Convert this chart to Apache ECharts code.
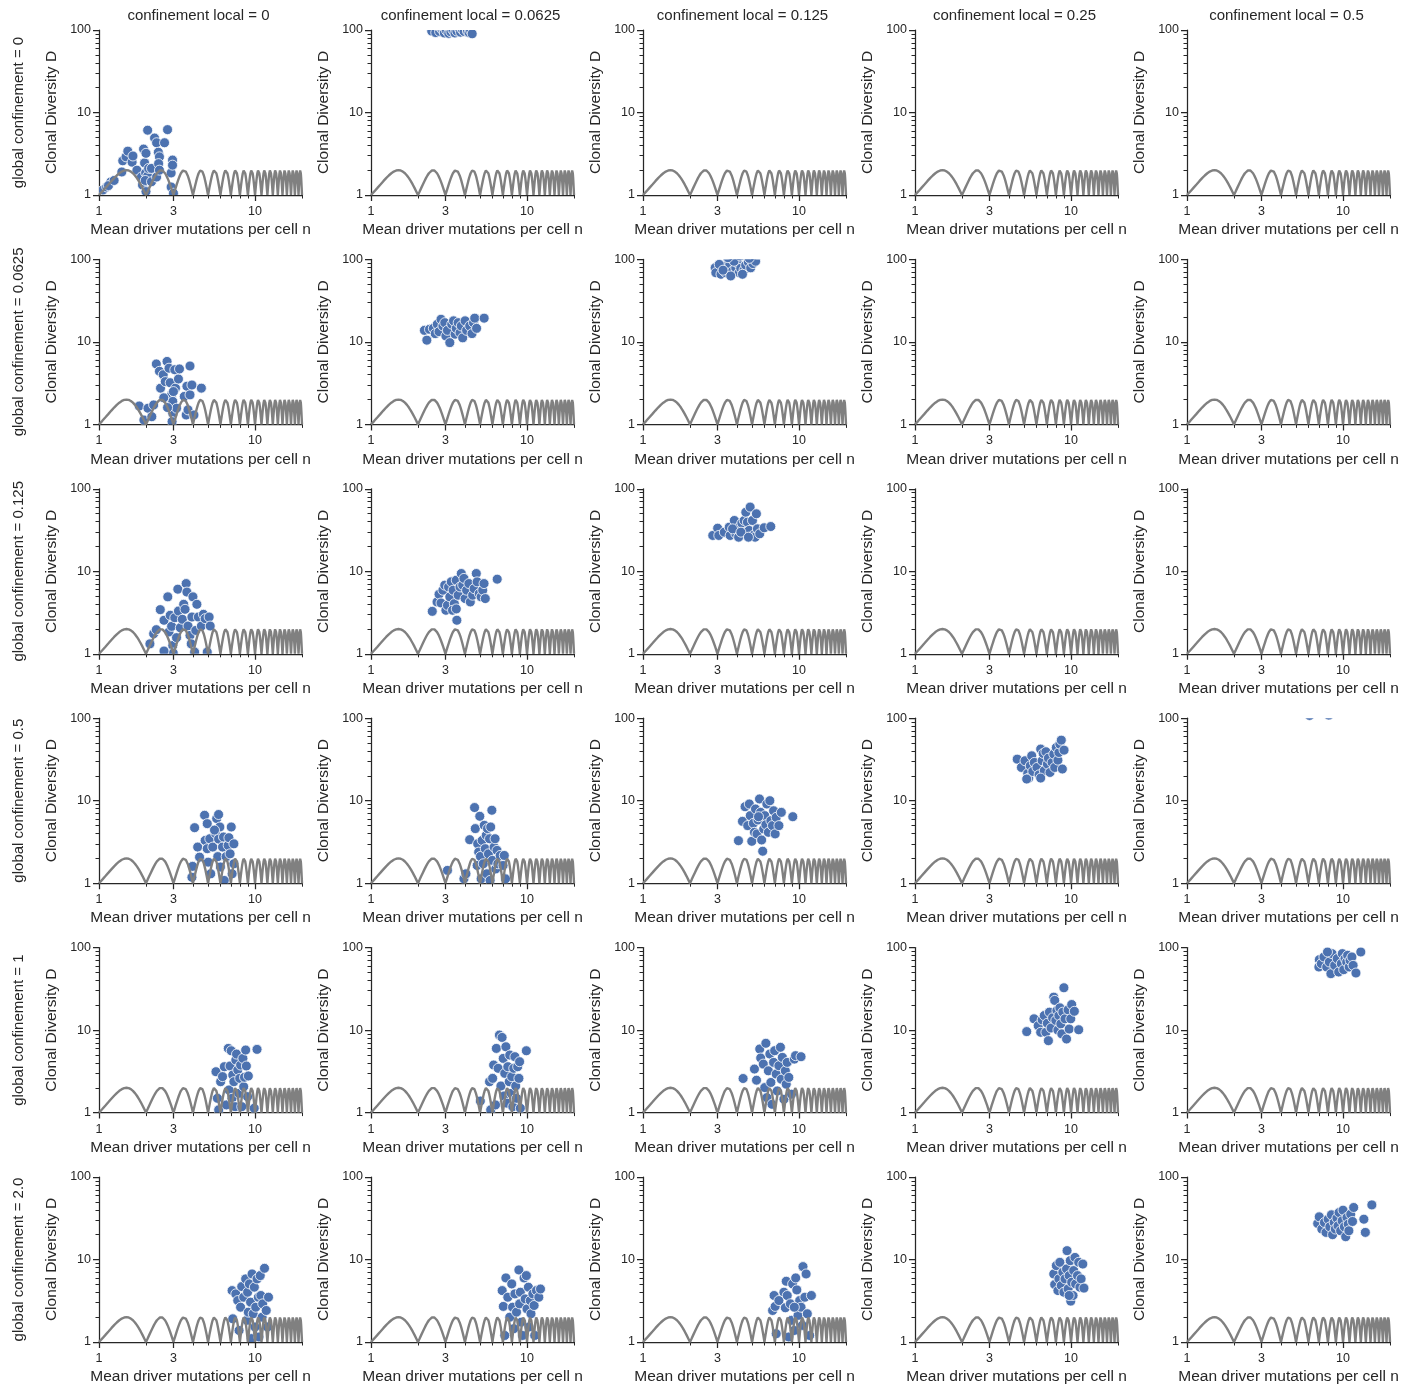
<!DOCTYPE html>
<html>
<head>
<meta charset="utf-8">
<script src="https://cdn.jsdelivr.net/npm/echarts@6/dist/echarts.min.js"></script>
<style>
  html, body { margin: 0; padding: 0; background: #ffffff; }
  #chart { width: 1419px; height: 1388px; }
</style>
</head>
<body>
<div id="chart"></div>
<script>
// Facet levels
const globalLevels = ['0', '0.0625', '0.125', '0.5', '1', '2.0'];
const localLevels = ['0', '0.0625', '0.125', '0.25', '0.5'];

// Tick positions
const xMajorTicks = [1, 3, 10];
const xMinorTicks = [2, 4, 5, 6, 7, 8, 9, 20];
const yMajorTicks = [1, 10, 100];
const yMinorTicks = [2, 3, 4, 5, 6, 7, 8, 9, 20, 30, 40, 50, 60, 70, 80, 90];

// One arch of the reference curve between two consecutive integers n and n+1
const archFrac = [0, 0.05, 0.1, 0.15, 0.2, 0.25, 0.3, 0.35, 0.4, 0.45, 0.5,
                  0.55, 0.6, 0.65, 0.7, 0.75, 0.8, 0.85, 0.9, 0.95, 1];
const archD = [1, 1.105, 1.22, 1.342, 1.471, 1.6, 1.724, 1.835, 1.923, 1.98, 2,
               1.98, 1.923, 1.835, 1.724, 1.6, 1.471, 1.342, 1.22, 1.105, 1];
const archStarts = [1, 2, 3, 4, 5, 6, 7, 8, 9, 10, 11, 12, 13, 14, 15, 16, 17, 18, 19];

// Simulated tumours: [mean driver mutations n, clonal diversity D]
const pts_g0_l0 = [[1.06,1.15],[1.12,1.25],[1.19,1.44],[1.15,1.3],[1.25,1.5],[1.40,1.9],[1.42,2.6],[1.49,2.9],[1.53,3.4],[1.63,2.5],[1.65,2.97],[1.75,2.0],[1.87,1.65],[1.9,1.32],[1.93,3.6],[1.96,2.45],[2.0,3.2],[2.05,6.1],[1.99,1.85],[2.05,1.7],[1.98,1.5],[2.0,1.1],[2.08,2.1],[2.17,2.1],[2.17,1.45],[2.27,4.9],[2.34,4.3],[2.34,1.65],[2.4,3.3],[2.44,2.9],[2.41,2.4],[2.44,2.0],[2.63,4.3],[2.75,6.2],[2.9,1.85],[2.96,2.65],[2.96,2.3],[2.9,1.25],[3.0,1.05]];
const pts_g0_l0625 = [[2.45,97],[2.6,93],[2.75,96],[2.85,102],[2.95,92],[3.05,98],[3.15,91],[3.25,95],[3.35,100],[3.45,92],[3.55,97],[3.65,105],[3.75,94],[3.85,101],[3.95,96],[4.05,110],[4.15,97],[4.25,93],[4.35,99],[4.45,90],[3.0,115],[3.5,120],[2.7,112],[4.0,125]];

const pts_g0625_l0 = [[1.81,1.67],[1.94,1.13],[2.06,1.57],[2.18,1.24],[2.24,1.72],[2.33,5.4],[2.44,4.4],[2.48,2.75],[2.58,4.0],[2.73,5.8],[2.66,3.3],[2.81,4.8],[2.86,3.2],[2.92,2.28],[2.97,1.9],[2.97,1.36],[2.94,1.08],[3.06,4.6],[3.09,2.75],[3.14,1.57],[3.23,3.55],[3.28,4.7],[3.62,1.3],[3.52,2.18],[3.66,2.9],[3.72,1.5],[3.83,5.1],[3.83,2.28],[3.94,3.0],[4.06,1.3],[4.53,2.75],[2.6,2.1],[3.0,2.5],[2.75,1.6]];
const pts_g0625_l0625 = [[2.20,13.8],[2.28,10.5],[2.37,14.2],[2.51,14.6],[2.58,12.6],[2.66,16.4],[2.73,13.3],[2.81,18.8],[2.89,15.6],[2.97,17.1],[3.02,11.8],[3.09,13.8],[3.2,9.8],[3.29,16.4],[3.38,18.0],[3.46,12.4],[3.52,14.6],[3.62,17.1],[3.72,12.9],[3.79,15.6],[3.87,11.2],[4.01,18.0],[4.1,13.8],[4.29,15.6],[4.44,12.6],[4.54,17.1],[4.62,19.4],[4.75,14.6],[5.31,19.4]];
const pts_g0625_l125 = [[2.9,79],[2.93,69],[3.16,66],[3.44,83],[3.39,69],[3.6,87],[3.74,72],[3.93,79],[4.02,91],[4.13,69],[4.23,78],[4.44,74],[4.55,85],[4.73,93],[4.9,79],[5.07,89],[5.27,95],[3.83,95],[3.08,87],[3.26,74],[4.34,66],[3.65,63],[3.5,105],[4.2,110],[4.8,103]];

const pts_g125_l0 = [[2.12,1.32],[2.24,1.75],[2.33,1.96],[2.47,3.43],[2.61,2.55],[2.76,4.9],[2.81,1.84],[2.86,2.93],[2.92,2.15],[2.97,1.26],[2.99,1.02],[3.06,2.74],[3.14,1.57],[3.2,6.07],[3.23,3.3],[3.32,2.07],[3.42,2.62],[3.49,3.98],[3.56,3.46],[3.62,7.1],[3.66,5.6],[3.72,2.17],[3.83,1.67],[3.9,1.32],[3.94,2.79],[4.0,4.9],[4.1,1.05],[4.17,1.92],[4.24,3.98],[4.33,2.79],[4.53,2.17],[4.67,3.01],[4.79,2.67],[4.94,1.05],[5.08,2.79],[5.16,2.17],[2.61,1.08]];
const pts_g125_l0625 = [[2.47,3.27],[2.65,4.25],[2.73,5.27],[2.81,4.13],[2.89,5.9],[2.97,6.79],[3.02,3.37],[3.09,3.87],[3.14,6.46],[3.2,4.9],[3.27,7.45],[3.36,5.9],[3.42,4.05],[3.52,7.8],[3.55,2.55],[3.62,5.13],[3.72,6.46],[3.79,9.4],[3.87,6.79],[3.94,8.2],[4.01,4.67],[4.1,5.9],[4.24,7.1],[4.33,4.25],[4.48,5.13],[4.58,6.16],[4.73,9.4],[4.79,7.45],[4.94,5.36],[5.08,4.9],[5.2,5.9],[5.3,7.1],[5.4,4.67],[6.44,8.03],[3.33,3.37],[3.52,3.5]];
const pts_g125_l125 = [[2.8,27.2],[3.01,33.3],[3.06,27.2],[3.32,29.8],[3.57,34.3],[3.62,27.2],[3.85,41.3],[3.94,28.5],[4.1,25.9],[4.14,34.3],[4.3,38.4],[4.45,41.3],[4.52,29.8],[4.56,52],[4.67,39.4],[4.79,31.3],[4.86,60],[5.03,41.3],[5.08,27.2],[5.23,25.9],[5.33,49.8],[5.41,32.7],[5.6,28.5],[5.98,33.7],[6.59,34.9],[3.75,32.7],[4.24,29.8],[4.74,25.9]];

const pts_g5_l0 = [[3.94,1.18],[3.98,1.6],[4.1,4.71],[4.29,2.74],[4.41,2.07],[4.75,6.66],[4.79,3.3],[4.94,5.27],[4.94,2.62],[5.01,1.8],[5.13,3.46],[5.2,1.3],[5.36,2.74],[5.6,3.98],[5.68,6.07],[5.77,2.1],[5.84,3.43],[5.95,4.8],[6.0,1.57],[5.84,6.8],[6.19,2.74],[6.28,3.63],[6.35,1.08],[6.53,2.1],[6.73,2.87],[6.8,3.56],[6.92,2.27],[7.04,4.8],[7.13,1.3],[7.32,1.72],[7.32,3.0],[5.5,4.4]];
const pts_g5_l0625 = [[3.09,1.43],[3.94,1.13],[4.06,1.3],[4.29,3.37],[4.61,8.26],[4.66,4.59],[4.79,1.64],[4.83,3.01],[4.9,2.38],[4.98,6.47],[5.03,2.11],[5.08,1.13],[5.16,3.3],[5.24,1.72],[5.32,5.03],[5.4,2.62],[5.48,3.81],[5.53,1.3],[5.58,4.59],[5.66,2.27],[5.75,3.46],[5.8,1.08],[5.85,4.8],[5.95,7.66],[6.0,1.89],[6.15,2.74],[6.24,3.46],[6.3,1.49],[6.42,2.5],[6.5,1.72],[6.73,2.17],[7.02,1.64],[7.15,2.17],[7.28,1.13]];
const pts_g5_l125 = [[4.09,3.28],[4.34,5.62],[4.51,8.46],[4.69,4.99],[4.8,9.12],[4.87,6.59],[4.98,3.22],[5.1,5.32],[5.18,4.14],[5.26,7.93],[5.38,3.96],[5.46,5.84],[5.58,10.5],[5.67,7.22],[5.76,3.34],[5.85,2.44],[5.94,4.54],[6.03,6.59],[6.13,5.12],[6.22,9.12],[6.36,4.14],[6.5,10],[6.6,5.73],[6.76,4.99],[6.87,7.55],[7.03,3.96],[7.14,6.28],[7.43,4.99],[7.7,7.22],[9.12,6.4],[5.5,6.4]];
const pts_g5_l25 = [[4.52,31.9],[4.81,25.3],[5.07,30.5],[5.28,21.4],[5.36,18.8],[5.48,26.5],[5.6,35],[5.69,22.6],[5.82,29.1],[6.05,25.3],[6.24,20.6],[6.39,42.2],[6.53,30.5],[6.63,37.4],[6.74,23.1],[6.9,39.2],[7.05,27.8],[7.16,32.8],[7.33,22],[7.56,29.1],[7.75,36.7],[7.86,25.3],[8.05,44.2],[8.24,31],[8.36,38.4],[8.48,48.5],[8.66,54.2],[8.8,24.2],[9.02,41],[5.2,18.3],[6.39,18.8]];
const pts_g5_l5 = [[6.1,108],[6.2,125],[7.0,140],[8.1,109],[7.5,130],[6.6,150],[8.0,160],[5.5,120],[9.0,135]];

const pts_g1_l0 = [[5.62,3.13],[5.74,1.49],[5.85,1.08],[6.02,2.37],[6.19,2.73],[6.36,3.6],[6.55,1.24],[6.74,6.0],[6.81,1.88],[6.92,3.67],[7.04,5.62],[7.12,1.49],[7.2,2.86],[7.32,2.37],[7.45,1.18],[7.53,4.34],[7.61,5.12],[7.75,3.28],[7.88,1.71],[7.98,2.6],[8.08,3.77],[8.22,1.18],[8.36,4.54],[8.46,2.06],[8.56,2.68],[8.71,5.73],[8.8,3.67],[8.96,1.56],[9.06,2.78],[9.88,1.13],[10.3,5.84]];
const pts_g1_l0625 = [[5.02,1.38],[5.75,2.37],[5.85,1.08],[6.02,2.6],[6.11,3.77],[6.28,1.24],[6.36,6.0],[6.53,3.44],[6.65,8.7],[6.8,2.1],[6.92,8.15],[7.04,4.54],[7.12,1.59],[7.2,2.99],[7.32,6.28],[7.45,1.3],[7.53,3.6],[7.69,2.37],[7.75,4.98],[7.92,1.71],[7.98,2.73],[8.11,1.18],[8.22,3.44],[8.36,4.76],[8.46,2.1],[8.56,1.49],[8.71,3.6],[8.87,2.6],[8.96,4.14],[9.06,1.13],[9.9,5.62]];
const pts_g1_l125 = [[4.38,2.59],[5.18,3.37],[5.34,2.47],[5.6,5.9],[5.68,4.59],[5.9,3.87],[6.03,2.01],[6.13,6.92],[6.22,1.52],[6.36,3.21],[6.5,5.13],[6.6,2.32],[6.71,1.26],[6.87,4.06],[6.98,5.63],[7.14,2.93],[7.25,1.83],[7.43,3.7],[7.6,6.19],[7.7,2.54],[7.82,4.67],[8.0,1.45],[8.17,3.21],[8.28,2.21],[8.4,4.06],[8.6,2.67],[8.95,1.67],[9.33,4.45],[9.5,4.9],[10.3,4.76]];
const pts_g1_l25 = [[5.2,9.59],[5.79,13.7],[6.16,11.3],[6.39,9.4],[6.53,13.3],[6.74,15],[6.9,9.4],[7.05,12.1],[7.16,7.45],[7.27,16.5],[7.45,10.6],[7.62,14.1],[7.75,25.1],[7.86,22.9],[7.99,13.1],[8.12,17.3],[8.24,10.0],[8.36,15],[8.48,18.6],[8.6,11.9],[8.73,9.0],[8.86,16.5],[9.0,32.6],[9.15,13.7],[9.36,7.8],[9.58,17.6],[9.73,10.3],[9.96,13.7],[10.1,20.4],[10.5,16.9],[11.2,10.1]];
const pts_g1_l5 = [[7.05,71.4],[7.0,58.2],[7.26,63.9],[7.54,77],[7.86,58.2],[8.17,66.9],[8.36,48.3],[8.5,84.5],[8.84,60.9],[9.18,73.5],[9.38,50.6],[9.75,63.9],[9.9,84.5],[10.1,54],[10.3,73.5],[10.55,66.9],[10.7,80.6],[10.95,58.2],[11.1,70.1],[11.4,77],[11.6,60.9],[12.1,49.2],[13.0,88.5],[7.95,88.5]];

const pts_g2_l0 = [[7.13,4.2],[7.2,1.91],[7.53,3.83],[7.75,3.18],[7.9,1.38],[8.08,2.64],[8.22,4.7],[8.46,3.49],[8.71,5.82],[8.86,1.83],[8.96,4.01],[9.06,2.3],[9.2,5.06],[9.36,3.04],[9.46,1.1],[9.57,6.68],[9.73,2.2],[9.9,4.62],[10.0,1.52],[10.1,2.64],[10.3,5.82],[10.5,3.49],[10.6,1.15],[10.8,6.38],[10.9,3.66],[11.1,2.0],[11.2,2.9],[11.5,7.82],[11.8,2.41],[12.0,1.52],[12.2,3.49]];
const pts_g2_l0625 = [[6.93,4.2],[7.05,2.7],[7.2,1.2],[7.32,5.98],[7.53,3.49],[7.75,2.0],[7.98,5.06],[8.08,2.64],[8.22,1.45],[8.36,3.83],[8.56,2.3],[8.87,7.47],[8.96,2.9],[9.06,4.01],[9.2,1.74],[9.36,1.2],[9.57,5.98],[9.73,3.33],[9.9,6.38],[10.0,2.52],[10.2,4.62],[10.3,1.52],[10.5,3.18],[10.6,2.2],[10.9,3.83],[11.1,2.77],[11.2,1.2],[11.5,4.2],[11.9,3.49],[12.2,4.39]];
const pts_g2_l125 = [[6.77,2.41],[6.92,3.66],[7.03,2.7],[7.14,1.26],[7.43,3.18],[8.0,4.01],[8.17,2.6],[8.28,5.45],[8.4,3.66],[8.6,1.15],[8.8,2.9],[8.95,1.83],[9.1,5.06],[9.33,1.38],[9.52,5.98],[9.68,4.28],[9.85,2.1],[10.1,3.18],[10.3,2.64],[10.5,1.59],[10.6,8.2],[10.9,3.49],[11.1,6.68],[11.3,2.2],[11.7,1.2],[12.0,3.66],[9.33,2.64]];
const pts_g2_l25 = [[7.75,6.68],[7.86,4.97],[8.05,8.43],[8.24,4.2],[8.36,5.82],[8.48,9.24],[8.66,4.83],[8.86,7.0],[9.0,4.01],[9.15,5.82],[9.36,7.68],[9.43,12.8],[9.58,4.4],[9.73,6.38],[9.88,9.68],[9.96,3.13],[10.1,5.3],[10.3,3.66],[10.4,7.34],[10.6,10.6],[10.7,5.06],[11.0,6.38],[11.2,9.24],[11.4,4.62],[11.6,5.82],[11.9,8.8],[12.1,4.5],[9.73,3.66]];
const pts_g2_l5 = [[6.88,27.3],[7.04,32.9],[7.31,23.4],[7.6,28.1],[7.78,21.3],[8.03,30.8],[8.23,24.9],[8.43,34.8],[8.57,20],[8.78,28.1],[8.92,23.4],[9.14,31.7],[9.29,25.6],[9.43,37.1],[9.65,22.3],[9.87,29.4],[10.0,39.6],[10.2,24.9],[10.4,18.9],[10.6,32.3],[10.8,26.8],[10.9,22.3],[11.2,35.4],[11.5,28.9],[11.7,42.7],[13.6,30.8],[13.9,21.3],[15.3,45.9]];

// Facet rows (global confinement) x columns (local confinement); null = no runs
const panelPoints = [
  [pts_g0_l0,    pts_g0_l0625,    null,            null,          null],
  [pts_g0625_l0, pts_g0625_l0625, pts_g0625_l125,  null,          null],
  [pts_g125_l0,  pts_g125_l0625,  pts_g125_l125,   null,          null],
  [pts_g5_l0,    pts_g5_l0625,    pts_g5_l125,     pts_g5_l25,    pts_g5_l5],
  [pts_g1_l0,    pts_g1_l0625,    pts_g1_l125,     pts_g1_l25,    pts_g1_l5],
  [pts_g2_l0,    pts_g2_l0625,    pts_g2_l125,     pts_g2_l25,    pts_g2_l5]
];

// Reference curve assembled arch by arch
const curve = [];
archStarts.forEach(function (k, ai) {
  archFrac.forEach(function (f, i) {
    if (i === 0 && ai > 0) return;
    curve.push([k + f, archD[i]]);
  });
});

const FONT = '"Liberation Sans", Arial, "DejaVu Sans", sans-serif';
const INK = '#262626';
const DOT = '#4C72B0';
const PANEL_W = 203, PANEL_H = 165;
const COL_STEP = 272, ROW_STEP = 229.4;
const LEFT0 = 99, TOP0 = 30;
const TICK_FS = 12.5, NAME_FS = 15.5, HEAD_FS = 15;
const DOT_R = 5;

// Markers as circles so that partly-outside ones are cut at the panel edge
function renderDot(params, api) {
  const p = api.coord([api.value(0), api.value(1)]);
  return {
    type: 'circle',
    shape: { cx: p[0], cy: p[1], r: DOT_R },
    style: { fill: DOT, stroke: '#ffffff', lineWidth: 0.8 }
  };
}

const grids = [], xAxes = [], yAxes = [], series = [], graphics = [];

for (let r = 0; r < globalLevels.length; r++) {
  for (let c = 0; c < localLevels.length; c++) {
    const idx = r * localLevels.length + c;
    const left = LEFT0 + c * COL_STEP;
    const top = TOP0 + r * ROW_STEP;
    grids.push({ left: left, top: top, width: PANEL_W, height: PANEL_H });

    xAxes.push({
      gridIndex: idx, type: 'log', logBase: 10, min: 1, max: 20, position: 'bottom',
      name: 'Mean driver mutations per cell n', nameLocation: 'middle', nameGap: 27,
      nameTextStyle: { fontSize: NAME_FS, color: INK, fontFamily: FONT },
      axisLine: { show: true, lineStyle: { color: INK, width: 1.25 } },
      axisTick: { show: true, length: 6, lineStyle: { color: INK, width: 1.25 }, customValues: xMajorTicks },
      axisLabel: { show: true, customValues: xMajorTicks, fontSize: TICK_FS, color: INK, margin: 10, fontFamily: FONT },
      splitLine: { show: false }, minorTick: { show: false }
    });
    xAxes.push({
      gridIndex: idx, type: 'log', logBase: 10, min: 1, max: 20, position: 'bottom',
      axisLine: { show: false },
      axisTick: { show: true, length: 3.5, lineStyle: { color: INK, width: 1 }, customValues: xMinorTicks },
      axisLabel: { show: false }, splitLine: { show: false }
    });
    yAxes.push({
      gridIndex: idx, type: 'log', logBase: 10, min: 1, max: 100, position: 'left',
      name: 'Clonal Diversity D', nameLocation: 'middle', nameGap: 39,
      nameTextStyle: { fontSize: NAME_FS, color: INK, fontFamily: FONT },
      axisLine: { show: true, lineStyle: { color: INK, width: 1.25 } },
      axisTick: { show: true, length: 6, lineStyle: { color: INK, width: 1.25 }, customValues: yMajorTicks },
      axisLabel: { show: true, customValues: yMajorTicks, fontSize: TICK_FS, color: INK, margin: 8, fontFamily: FONT },
      splitLine: { show: false }, minorTick: { show: false }
    });
    yAxes.push({
      gridIndex: idx, type: 'log', logBase: 10, min: 1, max: 100, position: 'left',
      axisLine: { show: false },
      axisTick: { show: true, length: 3.5, lineStyle: { color: INK, width: 1 }, customValues: yMinorTicks },
      axisLabel: { show: false }, splitLine: { show: false }
    });

    const pts = panelPoints[r][c];
    if (pts) {
      series.push({
        type: 'custom', xAxisIndex: 2 * idx, yAxisIndex: 2 * idx,
        data: pts, encode: { x: 0, y: 1 }, renderItem: renderDot,
        clip: true, z: 2, silent: true
      });
    }
    series.push({
      type: 'line', xAxisIndex: 2 * idx, yAxisIndex: 2 * idx,
      data: curve, symbol: 'none', showSymbol: false, clip: true, z: 3, silent: true,
      lineStyle: { color: '#808080', width: 2.4 }
    });
  }
}

// Column headers
localLevels.forEach(function (lv, c) {
  graphics.push({
    type: 'text', x: LEFT0 + c * COL_STEP + PANEL_W / 2 - 2, y: 16,
    style: { text: 'confinement local = ' + lv, fill: INK, font: HEAD_FS + 'px ' + FONT, align: 'center', verticalAlign: 'middle' }
  });
});
// Row headers
globalLevels.forEach(function (lv, r) {
  graphics.push({
    type: 'text', x: 19, y: TOP0 + r * ROW_STEP + PANEL_H / 2, rotation: Math.PI / 2,
    style: { text: 'global confinement = ' + lv, fill: INK, font: HEAD_FS + 'px ' + FONT, align: 'center', verticalAlign: 'middle' }
  });
});

const chart = echarts.init(document.getElementById('chart'), null, { renderer: 'canvas' });
chart.setOption({
  animation: false,
  backgroundColor: '#ffffff',
  grid: grids,
  xAxis: xAxes,
  yAxis: yAxes,
  series: series,
  graphic: graphics
});
</script>
</body>
</html>
